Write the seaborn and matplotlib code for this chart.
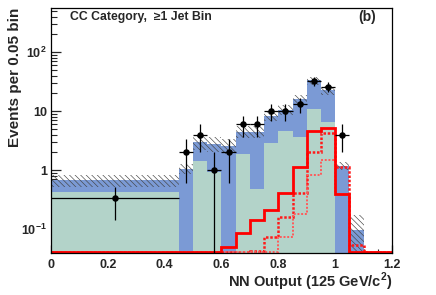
import numpy as np
import matplotlib
matplotlib.use("Agg")
import matplotlib.pyplot as plt
import seaborn as sns
from matplotlib.ticker import MultipleLocator, LogLocator, NullFormatter

# binning: one wide bin, then 0.05 bins (values are per 0.05)
edges = [0.0, 0.45, 0.5, 0.55, 0.6, 0.65, 0.7, 0.75, 0.8, 0.85,
         0.9, 0.95, 1.0, 1.05, 1.1, 1.15, 1.2]

# background stack
bkg_total = [0.67, 1.05, 3.0, 2.8, 2.6, 4.5, 4.5, 8.1, 10.5, 16.0,
             33.0, 23.0, 1.17, 0.095, 0, 0]
bkg_lower = [0.42, 0, 1.4, 0.94, 0, 1.85, 0.47, 2.85, 4.6, 3.7,
             10.9, 6.5, 0, 0, 0, 0]
bkg_err = [0.15, 0.2, 0.8, 0.8, 0.7, 1.0, 1.0, 1.4, 2.0, 3.0,
           5.0, 4.0, 0.18, 0.075, 0, 0]

# signal curves
sig_main = [0, 0, 0, 0, 0.049, 0.086, 0.141, 0.21, 0.40, 1.13,
            4.67, 5.2, 0.39, 0, 0, 0]
sig_a = [0, 0, 0, 0, 0, 0, 0.042, 0.073, 0.16, 0.41,
         2.05, 4.3, 1.14, 0.053, 0, 0]
sig_b = [0, 0, 0, 0, 0, 0, 0, 0, 0.073, 0.18,
         0.82, 1.5, 0.39, 0, 0, 0]

# data
data_x = [0.225, 0.475, 0.525, 0.575, 0.625, 0.675, 0.725, 0.775,
          0.825, 0.875, 0.925, 0.975, 1.025]
data_xerr = [0.225] + [0.025] * 12
data_y = [0.33, 2, 4, 1, 2, 6, 6, 10, 10, 13, 32, 26, 4]
data_err = [0.19, 1.4, 2.0, 1.0, 1.4, 2.4, 2.4, 3.2, 3.2, 3.6, 5.7, 5.1, 2.0]

ymin, ymax = 0.039, 560

sns.set_style("white")
plt.rcParams["font.family"] = ["Liberation Sans", "DejaVu Sans"]
plt.rcParams["font.weight"] = "bold"
plt.rcParams["mathtext.fontset"] = "custom"
plt.rcParams["mathtext.rm"] = "Liberation Sans:bold"
plt.rcParams["mathtext.bf"] = "Liberation Sans:bold"
plt.rcParams["hatch.linewidth"] = 0.45

fig = plt.figure(figsize=(4.36, 2.95), dpi=100)
ax = fig.add_axes([0.117, 0.142, 0.782, 0.831])
ax.set_yscale("log")

floor = lambda v: np.maximum(np.asarray(v, dtype=float), ymin)
base = ymin * 1.06

# stacked background
ax.stairs(floor(bkg_total), edges, baseline=ymin, fill=True,
          color="#7b9ad5", linewidth=0, zorder=1)
ax.stairs(floor(bkg_lower), edges, baseline=ymin, fill=True,
          color="#b3d3c9", linewidth=0, zorder=2)

# uncertainty band
tot = np.asarray(bkg_total, dtype=float)
err = np.asarray(bkg_err, dtype=float)
ax.stairs(floor(tot + err), edges, baseline=floor(tot - err), fill=True,
          facecolor="none", edgecolor="#444444", hatch="\\\\\\\\\\\\",
          linewidth=0, zorder=3)

# signal
ax.stairs(np.maximum(sig_main, base), edges, baseline=None,
          color="#ff0000", linewidth=2.0, zorder=5)
ax.stairs(np.maximum(sig_a, base), edges, baseline=None,
          color="#ff1a1a", linewidth=1.8, linestyle=(0, (1, 0.7)), zorder=4)
ax.stairs(np.maximum(sig_b, base), edges, baseline=None,
          color="#ff5a5a", linewidth=1.4, linestyle=(0, (1, 0.9)), zorder=4)

# data points
dy = np.asarray(data_y, dtype=float)
de = np.asarray(data_err, dtype=float)
ylo = dy - np.maximum(dy - de, 1e-3)
ax.errorbar(data_x, data_y, xerr=data_xerr, yerr=[ylo, de], fmt="none",
            ecolor="black", elinewidth=0.9, capsize=0, zorder=6)
sns.scatterplot(x=data_x, y=data_y, color="black", s=22, linewidth=0,
                ax=ax, zorder=7, legend=False)

ax.set_xlim(0, 1.2)
ax.set_ylim(ymin, ymax)

ax.xaxis.set_minor_locator(MultipleLocator(0.05))
ax.set_xticks([0, 0.2, 0.4, 0.6, 0.8, 1.0, 1.2])
ax.set_xticklabels(["0", "0.2", "0.4", "0.6", "0.8", "1", "1.2"])
ax.set_yticks([0.1, 1, 10, 100])
ax.set_yticklabels([r"$10^{-1}$", "1", "10", r"$10^{2}$"])
ax.yaxis.set_minor_locator(LogLocator(base=10, subs=np.arange(2, 10)))
ax.yaxis.set_minor_formatter(NullFormatter())
ax.tick_params(axis="both", which="both", direction="in", labelsize=9,
               top=False, right=False, left=True, bottom=True)
ax.tick_params(axis="x", which="major", length=6, width=0.9, pad=4)
ax.tick_params(axis="x", which="minor", length=3, width=0.8)
ax.tick_params(axis="y", which="major", length=7, width=0.9, pad=3)
ax.tick_params(axis="y", which="minor", length=4, width=0.8)
for s in ax.spines.values():
    s.set_linewidth(0.9)
    s.set_color("black")
    s.set_zorder(8)

ax.set_xlabel(r"NN Output (125 GeV/c$^{2}$)", fontsize=10.5, fontweight="bold",
              loc="right", labelpad=0)
ax.set_ylabel("Events per 0.05 bin", fontsize=11, fontweight="bold",
              loc="top")
ax.yaxis.set_label_coords(-0.085, 1.0)

ax.text(0.056, 0.963, "CC Category,  \u22651 Jet Bin", transform=ax.transAxes,
        fontsize=8.8, fontweight="bold", ha="left", va="center")
ax.text(0.953, 0.963, "(b)", transform=ax.transAxes,
        fontsize=10, fontweight="bold", ha="right", va="center")

fig.savefig("out.png", dpi=100)
